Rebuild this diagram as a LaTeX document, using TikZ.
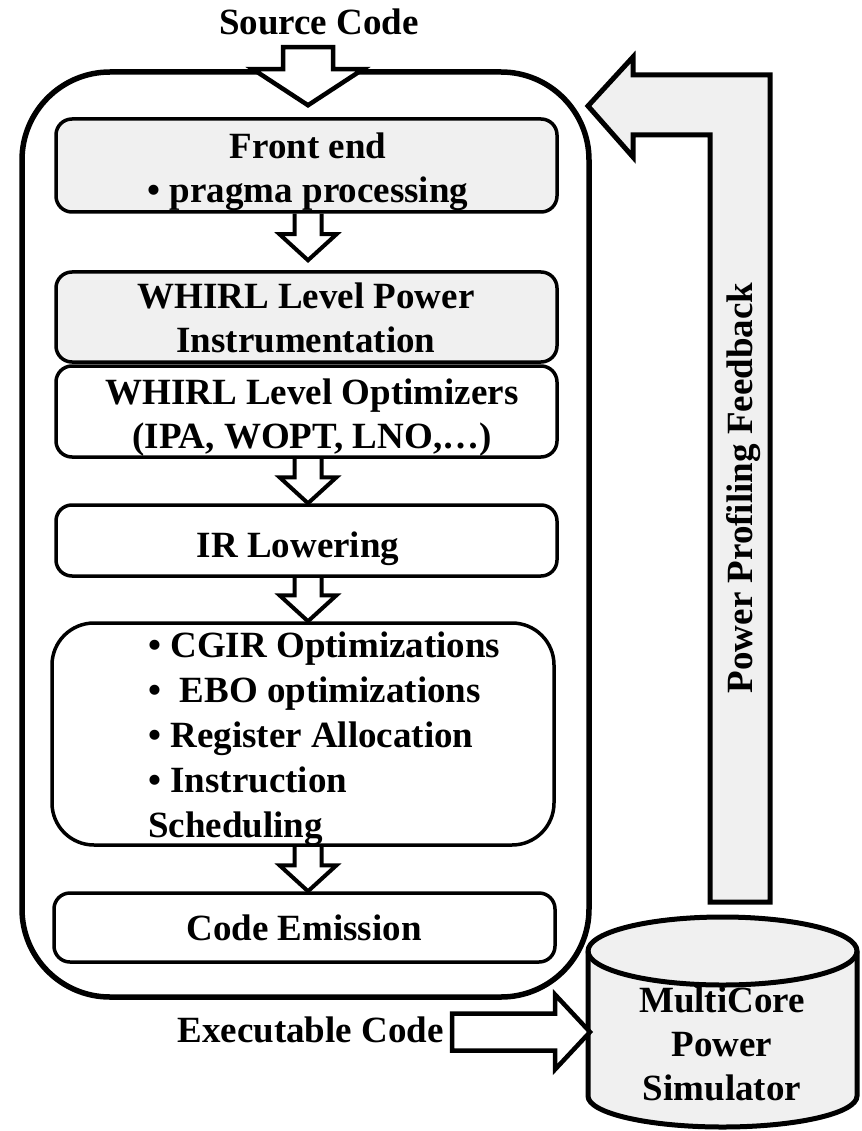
\documentclass[tikz,border=0pt]{standalone}
\usepackage{fontspec}
\setmainfont{Liberation Serif}
\usetikzlibrary{calc}
\definecolor{panel}{HTML}{F0F0F0}
\tikzset{
  lbl/.style={font=\fontsize{37}{44}\selectfont\bfseries, inner sep=0pt, align=center},
  stage/.style={draw, line width=3.5pt, rounded corners=16pt, minimum width=501pt},
  shaded/.style={stage, fill=panel},
  hollow/.style={draw, line width=4pt, line join=miter},
  fat/.style={draw, line width=4.5pt, fill=white, line join=miter},
  feedback/.style={draw, line width=5pt, fill=panel, line join=miter},
  drum/.style={draw, line width=5pt, fill=panel},
}
% hollow block arrow pointing down: #1 = top of shaft, #2 = tip
\newcommand\blockdown[2]{%
  \draw[hollow] ($(#1)+(-13.5,0)$) -- ($(#2)+(-13.5,-26)$) -- ($(#2)+(-28.5,-26)$)
    -- (#2) -- ($(#2)+(28.5,-26)$) -- ($(#2)+(13.5,-26)$) -- ($(#1)+(13.5,0)$);}
\begin{document}
\begin{tikzpicture}[x=1pt,y=-1pt]
\useasboundingbox (0,0) rectangle (861,1131);
\coordinate (axis) at (308,0);

% compiler frame
\node[draw, line width=5.5pt, rounded corners=88pt, minimum width=567pt,
      minimum height=925pt] (compiler) at (305.5,534.5) {};

% compiler stages
\node[shaded, minimum height=93pt] (fe)  at (306.5,165.5) {};
\node[shaded, minimum height=90pt] (pw)  at (306.5,317) {};
\node[stage,  minimum height=91pt] (opt) at (306.5,411.5) {};
\node[stage,  minimum height=71pt] (ir)  at (306.5,540.5) {};
\node[stage, rounded corners=42pt, minimum width=502pt, minimum height=222pt] (cg) at (303,734) {};
\node[stage,  minimum height=69pt] (ce)  at (304.5,927.5) {};

% stage labels
\node[lbl] (feT)  at (308,172) {Front end\\\textbullet{} pragma processing};
\node[lbl] (pwT)  at (306,318) {WHIRL Level Power\\Instrumentation};
\node[lbl] (optT) at (312,418) {WHIRL Level Optimizers\\(IPA, WOPT, LNO,…)};
\node[lbl] (irT)  at (298,549) {IR Lowering};
\node[lbl, font=\fontsize{37}{45}\selectfont\bfseries, align=left, anchor=west] (cgT) at (148,738.5)
  {\textbullet{} CGIR Optimizations\\\textbullet{} \ EBO optimizations\\\textbullet{} Register Allocation\\\textbullet{} Instruction\\Scheduling};
\node[lbl] (ceT)  at (304,928) {Code Emission};

% flow between stages
\coordinate (a1s) at (fe.south -| axis);  \coordinate (a1t) at ($(pw.north -| axis)+(0,-10)$);
\coordinate (a2s) at (opt.south -| axis); \coordinate (a2t) at (ir.north -| axis);
\coordinate (a3s) at (ir.south -| axis);  \coordinate (a3t) at (cg.north -| axis);
\coordinate (a4s) at (cg.south -| axis);  \coordinate (a4t) at (ce.north -| axis);
\blockdown{a1s}{a1t}
\blockdown{a2s}{a2t}
\blockdown{a3s}{a3t}
\blockdown{a4s}{a4t}

% source code input
\node[lbl] (src) at (319,22) {Source Code};
\coordinate (srcB) at (compiler.north -| axis);
\draw[fat] ($(srcB)+(-25,-22)$) -- ($(srcB)+(25,-22)$) -- ($(srcB)+(25,0)$) -- ($(srcB)+(55,0)$)
  -- ($(srcB)+(0,36)$) -- ($(srcB)+(-55,0)$) -- ($(srcB)+(-25,0)$) -- cycle;

% power simulator
\draw[drum] (588,951) -- (588,1096) arc[start angle=180, end angle=360, x radius=134.5pt, y radius=31pt]
  -- (857,951) arc[start angle=0, end angle=180, x radius=134.5pt, y radius=34pt] -- cycle;
\draw[line width=5pt] (588,951) arc[start angle=180, end angle=360, x radius=134.5pt, y radius=34pt];
\node[lbl] (sim) at (722,1044) {MultiCore\\Power\\Simulator};

% executable code output
\node[lbl] (exe) at (310.5,1030) {Executable Code};
\coordinate (simW) at (590,1032);
\draw[fat] (simW) -- ++(-35,-37.5) -- ++(0,19) -- ++(-103,0) -- ++(0,37) -- ++(103,0) -- ++(0,19) -- cycle;

% profiling feedback loop
\coordinate (fbTip) at (588,106);
\draw[feedback] (fbTip) -- ++(45,-49) -- ++(0,18) -- ++(137,0) -- ++(0,827) -- ++(-60,0)
  -- ++(0,-767) -- ++(-77,0) -- ++(0,22) -- cycle;
\node[lbl, rotate=90] (fbLbl) at (744,488) {Power Profiling Feedback};
\end{tikzpicture}
\end{document}
